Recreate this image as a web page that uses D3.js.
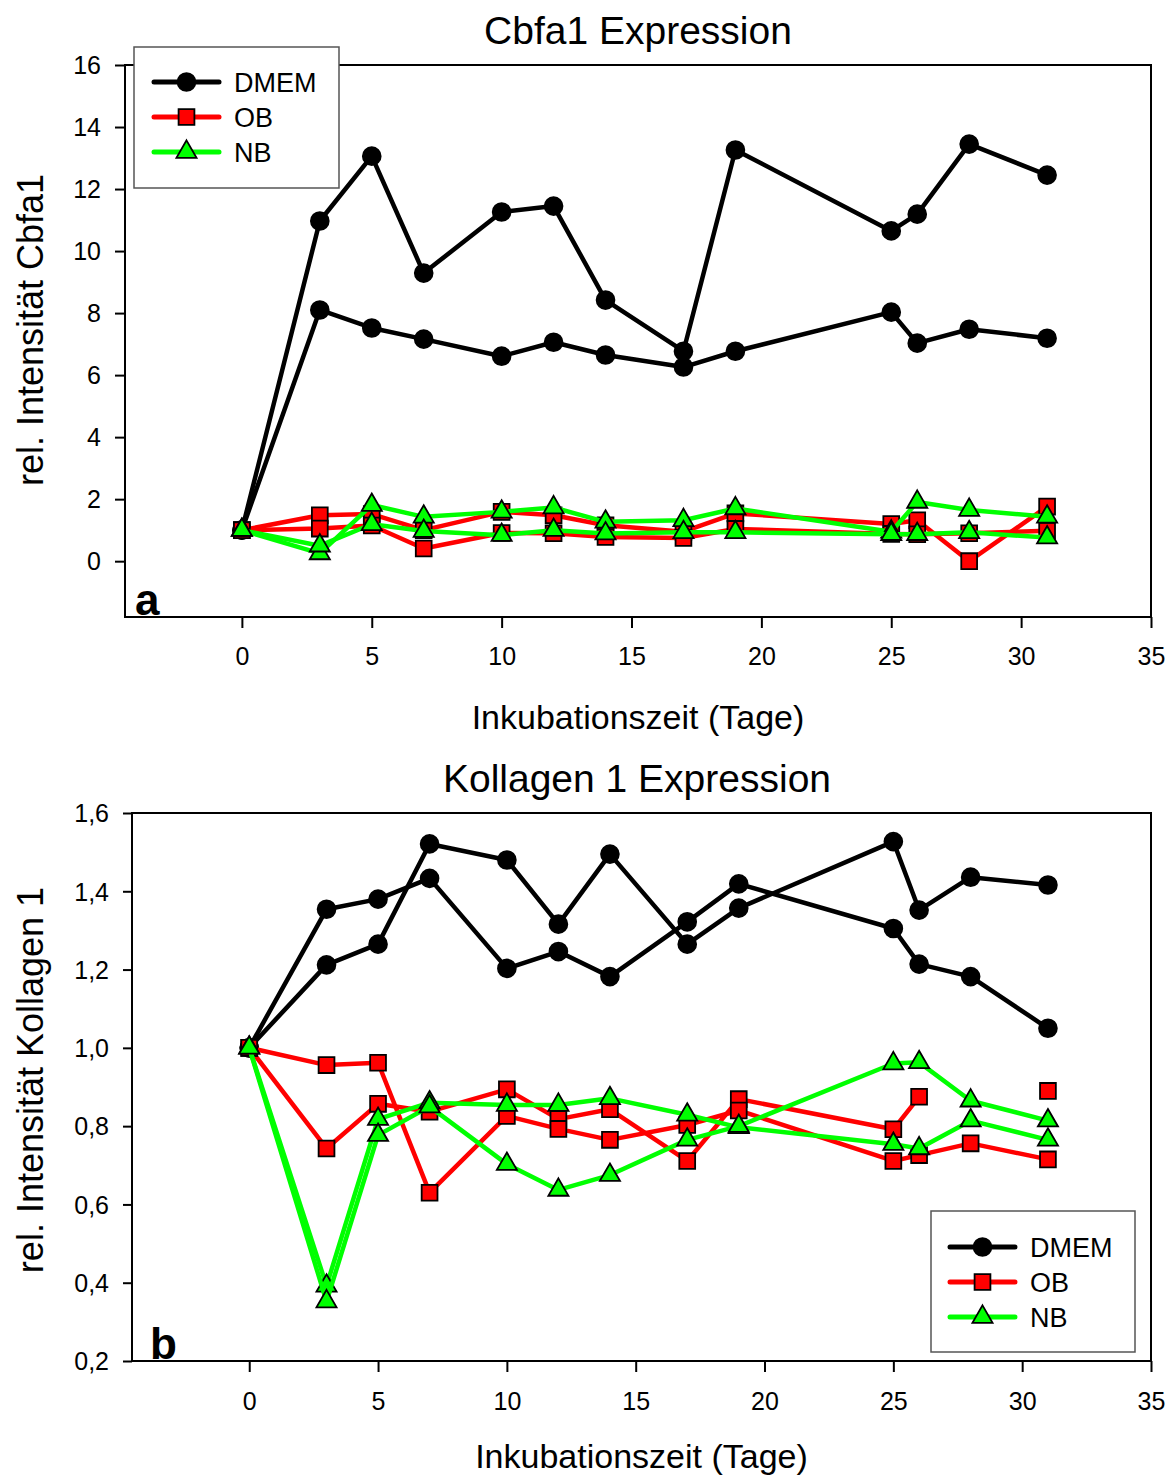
<!DOCTYPE html>
<html><head><meta charset="utf-8">
<script src="https://cdn.jsdelivr.net/npm/d3@7"></script>
<style>
html,body{margin:0;padding:0;background:#fff;}
svg text{font-family:"Liberation Sans",Arial,sans-serif;fill:#000;}
</style></head>
<body>
<svg id="chart" width="1170" height="1476"></svg>
<script>
// ---------- data ----------
const days = [0, 3, 5, 7, 10, 12, 14, 17, 19, 25, 26, 28, 31];
const seriesNames = ["DMEM", "OB", "NB"];

// Cbfa1 (panel a), two replicate curves per medium
const cbfaDMEM1 = [1.0, 10.97, 13.06, 9.29, 11.26, 11.45, 8.42, 6.77, 13.26, 10.65, 11.19, 13.45, 12.45];
const cbfaDMEM2 = [1.0, 8.10, 7.52, 7.16, 6.61, 7.06, 6.65, 6.26, 6.77, 8.03, 7.03, 7.48, 7.19];
const cbfaOB1 = [1.0, 1.48, 1.52, 1.00, 1.59, 1.48, 1.16, 0.95, 1.54, 1.20, 1.32, 0.00, 1.76];
const cbfaOB2 = [1.0, 1.05, 1.15, 0.41, 0.91, 0.90, 0.78, 0.75, 1.04, 0.88, 0.87, 0.90, 0.98];
const cbfaNB1 = [1.0, 0.25, 1.81, 1.43, 1.59, 1.73, 1.27, 1.32, 1.70, 0.95, 1.91, 1.65, 1.43];
const cbfaNB2 = [1.0, 0.50, 1.19, 0.97, 0.84, 1.00, 0.89, 0.93, 0.93, 0.87, 0.87, 0.93, 0.76];

// Kollagen 1 (panel b)
const kolDMEM1 = [1.0, 1.354, 1.380, 1.433, 1.203, 1.246, 1.182, 1.322, 1.419, 1.305, 1.214, 1.182, 1.050];
const kolDMEM2 = [1.0, 1.212, 1.265, 1.521, 1.480, 1.316, 1.495, 1.265, 1.357, 1.527, 1.352, 1.436, 1.416];
const kolOB1 = [1.0, 0.743, 0.857, 0.837, 0.894, 0.818, 0.843, 0.711, 0.869, 0.792, 0.875, null, 0.890];
const kolOB2 = [1.0, 0.956, 0.962, 0.630, 0.826, 0.793, 0.765, 0.803, 0.840, 0.711, 0.726, 0.756, 0.715];
const kolNB1 = [1.0, 0.392, 0.818, 0.860, 0.854, 0.854, 0.871, 0.829, 0.797, 0.754, 0.743, 0.814, 0.765];
const kolNB2 = [1.0, 0.352, 0.777, 0.850, 0.703, 0.637, 0.675, 0.765, 0.800, 0.960, 0.963, 0.865, 0.814];

const xTicks = [0, 5, 10, 15, 20, 25, 30, 35];
const cbfaYTicks = [0, 2, 4, 6, 8, 10, 12, 14, 16];
const kolYTicks = [0.2, 0.4, 0.6, 0.8, 1.0, 1.2, 1.4, 1.6];

// ---------- drawing ----------
const svg = d3.select("#chart");
const colors = {DMEM: "#000000", OB: "#ff0000", NB: "#00ff00"};
const symbols = {DMEM: d3.symbolCircle, OB: d3.symbolSquare, NB: d3.symbolTriangle};
const symSize = {DMEM: 250, OB: 250, NB: 175};

function panel(cfg) {
  const g = svg.append("g");
  const x = d3.scaleLinear().domain(cfg.xDomain).range([cfg.left, cfg.right]);
  const y = d3.scaleLinear().domain(cfg.yDomain).range([cfg.bottom, cfg.top]);

  // frame
  g.append("rect").attr("x", cfg.left).attr("y", cfg.top)
    .attr("width", cfg.right - cfg.left).attr("height", cfg.bottom - cfg.top)
    .attr("fill", "none").attr("stroke", "#000").attr("stroke-width", 2);

  const xa = g.append("g").attr("transform", `translate(0,${cfg.bottom})`)
    .call(d3.axisBottom(x).tickValues(xTicks).tickSize(11).tickPadding(cfg.xpad).tickFormat(d3.format("d")));
  xa.select(".domain").remove();
  xa.selectAll("line").attr("stroke-width", 2);
  xa.selectAll("text").attr("font-size", 25).style("font-family", '"Liberation Sans",Arial,sans-serif');

  const ya = g.append("g").attr("transform", `translate(${cfg.left},0)`)
    .call(d3.axisLeft(y).tickValues(cfg.yTicks).tickSize(cfg.ytick).tickPadding(cfg.ypad).tickFormat(cfg.fmt));
  ya.select(".domain").remove();
  ya.selectAll("line").attr("stroke-width", 2);
  ya.selectAll("text").attr("font-size", 25).attr("dy", "0.35em").style("font-family", '"Liberation Sans",Arial,sans-serif');

  const line = d3.line().defined(d => d.v !== null).x(d => x(d.d)).y(d => y(d.v));
  cfg.series.forEach(s => {
    const pts = days.map((d, i) => ({d: d, v: s.values[i]}));
    g.append("path").datum(pts).attr("d", line)
      .attr("fill", "none").attr("stroke", colors[s.name]).attr("stroke-width", 4.5)
      .attr("stroke-linejoin", "round");
    g.selectAll(null).data(pts.filter(p => p.v !== null)).enter().append("path")
      .attr("d", d3.symbol(symbols[s.name], symSize[s.name]))
      .attr("transform", p => `translate(${x(p.d)},${y(p.v)})`)
      .attr("fill", colors[s.name]).attr("stroke", "#000").attr("stroke-width", 1.8);
  });

  // title
  g.append("text").attr("x", cfg.titleX).attr("y", cfg.titleY)
    .attr("text-anchor", "middle").attr("font-size", 39).text(cfg.title);
  // x label
  g.append("text").attr("x", (cfg.left + cfg.right) / 2).attr("y", cfg.xLabelY)
    .attr("text-anchor", "middle").attr("font-size", 34).text("Inkubationszeit (Tage)");
  // y label
  g.append("text").attr("transform", `translate(${cfg.yLabelX},${cfg.yLabelY}) rotate(-90)`)
    .attr("text-anchor", "middle").attr("font-size", 36).text(cfg.yLabel);
  // panel letter
  g.append("text").attr("x", cfg.letterX).attr("y", cfg.bottom - 2)
    .attr("font-size", 44).attr("font-weight", "bold").text(cfg.letter);

  // legend
  const L = cfg.legend;
  const lg = g.append("g");
  lg.append("rect").attr("x", L.x).attr("y", L.y).attr("width", L.w).attr("height", L.h)
    .attr("fill", "#fff").attr("stroke", "#555").attr("stroke-width", 1.5);
  seriesNames.forEach((n, i) => {
    const cy = L.y + L.row0 + i * L.dy;
    lg.append("line").attr("x1", L.x + L.lx1).attr("x2", L.x + L.lx2).attr("y1", cy).attr("y2", cy)
      .attr("stroke", colors[n]).attr("stroke-width", 5).attr("stroke-linecap", "round");
    lg.append("path").attr("d", d3.symbol(symbols[n], symSize[n])())
      .attr("transform", `translate(${L.x + (L.lx1 + L.lx2) / 2},${cy})`)
      .attr("fill", colors[n]).attr("stroke", "#000").attr("stroke-width", 1.8);
    lg.append("text").attr("x", L.x + L.tx).attr("y", cy).attr("dy", "0.36em")
      .attr("font-size", 27).text(n);
  });
}

panel({
  left: 125, right: 1151, top: 65, bottom: 617,
  xDomain: [-4.5, 35], yDomain: [-1.8, 16], yTicks: cbfaYTicks,
  fmt: d3.format("d"), ytick: 10, ypad: 14, xpad: 19,
  series: [
    {name: "DMEM", values: cbfaDMEM1}, {name: "DMEM", values: cbfaDMEM2},
    {name: "OB", values: cbfaOB1}, {name: "OB", values: cbfaOB2},
    {name: "NB", values: cbfaNB1}, {name: "NB", values: cbfaNB2}
  ],
  title: "Cbfa1 Expression", titleX: 638, titleY: 44, xLabelY: 729,
  yLabel: "rel. Intensität Cbfa1", yLabelX: 43, yLabelY: 330, letter: "a", letterX: 135,
  legend: {x: 134, y: 47, w: 205, h: 141, row0: 35, dy: 35, lx1: 20, lx2: 85, tx: 100}
});

panel({
  left: 132, right: 1151, top: 813, bottom: 1361,
  xDomain: [-4.55, 35], yDomain: [0.2, 1.6], yTicks: kolYTicks,
  fmt: v => d3.format(".1f")(v).replace(".", ","), ytick: 9, ypad: 14, xpad: 20,
  series: [
    {name: "DMEM", values: kolDMEM1}, {name: "DMEM", values: kolDMEM2},
    {name: "OB", values: kolOB1}, {name: "OB", values: kolOB2},
    {name: "NB", values: kolNB1}, {name: "NB", values: kolNB2}
  ],
  title: "Kollagen 1 Expression", titleX: 637, titleY: 792, xLabelY: 1468,
  yLabel: "rel. Intensität Kollagen 1", yLabelX: 43, yLabelY: 1080, letter: "b", letterX: 150,
  legend: {x: 931, y: 1211, w: 204, h: 141, row0: 36, dy: 35, lx1: 19, lx2: 84, tx: 99}
});
</script>
</body></html>
